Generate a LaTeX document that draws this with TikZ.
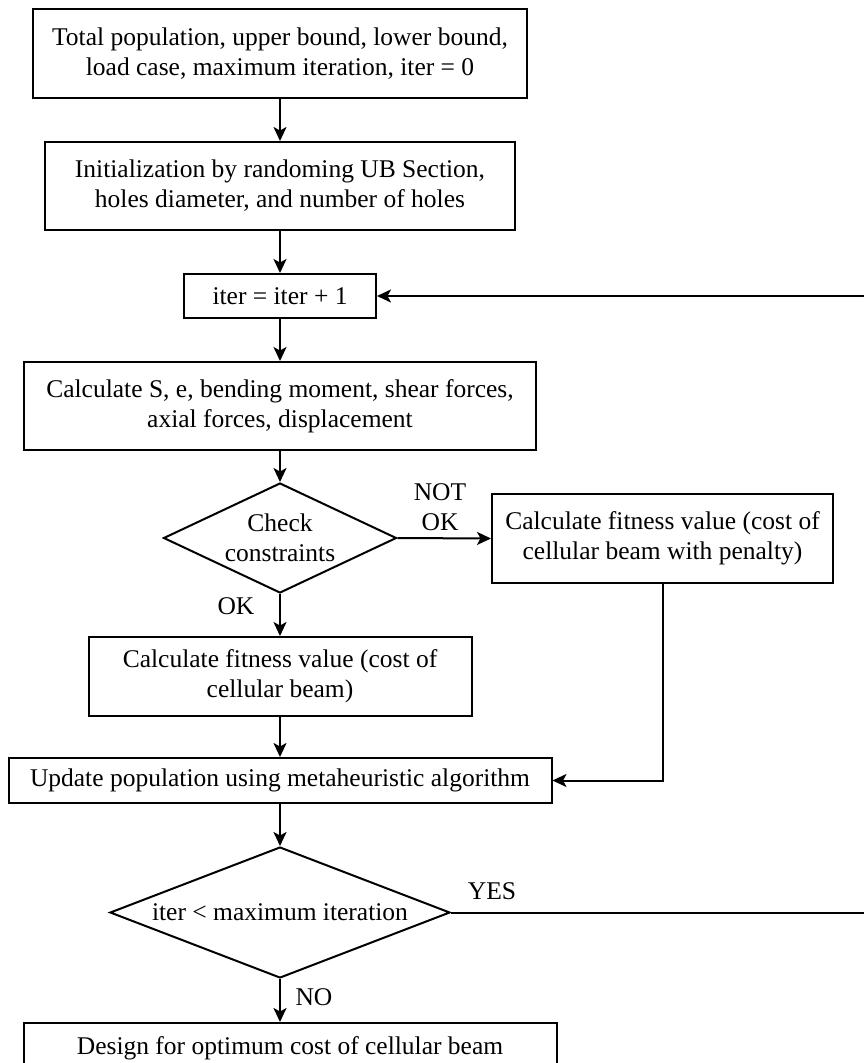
\documentclass[tikz,border=0pt]{standalone}
\usepackage{fontspec}
\setmainfont{Liberation Serif}
\usetikzlibrary{shapes.geometric,arrows.meta}
\begin{document}
\begin{tikzpicture}[x=1pt,y=-1pt,
  every node/.style={font=\fontsize{25.5}{30}\selectfont, text=black},
  box/.style={draw, line width=2pt, rectangle, inner sep=0pt, align=center},
  dia/.style={draw, line width=2pt, diamond, inner sep=0pt},
  conn/.style={line width=2pt, -{Stealth[length=14pt,width=13pt,inset=3.5pt]}},
  lab/.style={inner sep=0pt, align=center}]
\useasboundingbox[fill=white] (0,0) rectangle (864,1063);
\node[box, minimum width=494, minimum height=89] (b1) at (280,53.5) {Total population, upper bound, lower bound,\\load case, maximum iteration, iter = 0};
\node[box, minimum width=470, minimum height=88] (b2) at (280,186) {Initialization by randoming UB Section,\\holes diameter, and number of holes};
\node[box, minimum width=192, minimum height=44] (b3) at (280,296) {iter = iter + 1};
\node[box, minimum width=512, minimum height=88] (b4) at (280,406) {Calculate S, e, bending moment, shear forces,\\axial forces, displacement};
\node[dia, minimum width=233, minimum height=110] (d1) at (280,538) {};
\node[lab] (d1t) at (d1.center) {Check\\constraints};
\node[box, minimum width=341, minimum height=89] (b5) at (662.5,538.5) {Calculate fitness value (cost of\\cellular beam with penalty)};
\node[box, minimum width=383, minimum height=79] (b6) at (280,676.5) {Calculate fitness value (cost of\\cellular beam)};
\node[box, minimum width=543, minimum height=45] (b7) at (280,780.5) {Update population using metaheuristic algorithm};
\node[dia, minimum width=340, minimum height=131] (d2) at (280,912.5) {};
\node[lab] (d2t) at (d2.center) {iter < maximum iteration};
\node[box, minimum width=533, minimum height=50] (b8) at (290,1048) {Design for optimum cost of cellular beam};
\coordinate (loop) at (880,912.5);
\draw[conn] (b1.south) -- (b2.north);
\draw[conn] (b2.south) -- (b3.north);
\draw[conn] (b3.south) -- (b4.north);
\draw[conn] (b4.south) -- (d1.north);
\draw[conn] (d1.south) -- (b6.north);
\draw[conn] (b6.south) -- (b7.north);
\draw[conn] (b7.south) -- (d2.north);
\draw[conn] (d2.south) -- (d2.south |- b8.north);
\draw[conn] (d1.east) -- (b5.west);
\draw[conn] (b5.south) |- (b7.east);
\draw[conn] (d2.east) -- (loop) |- (b3.east);
\node[lab] (lnotok) at (440,507) {NOT\\OK};
\node[lab] (lok) at (236,606) {OK};
\node[lab] (lyes) at (492,891) {YES};
\node[lab] (lno) at (314,997) {NO};
\end{tikzpicture}
\end{document}
